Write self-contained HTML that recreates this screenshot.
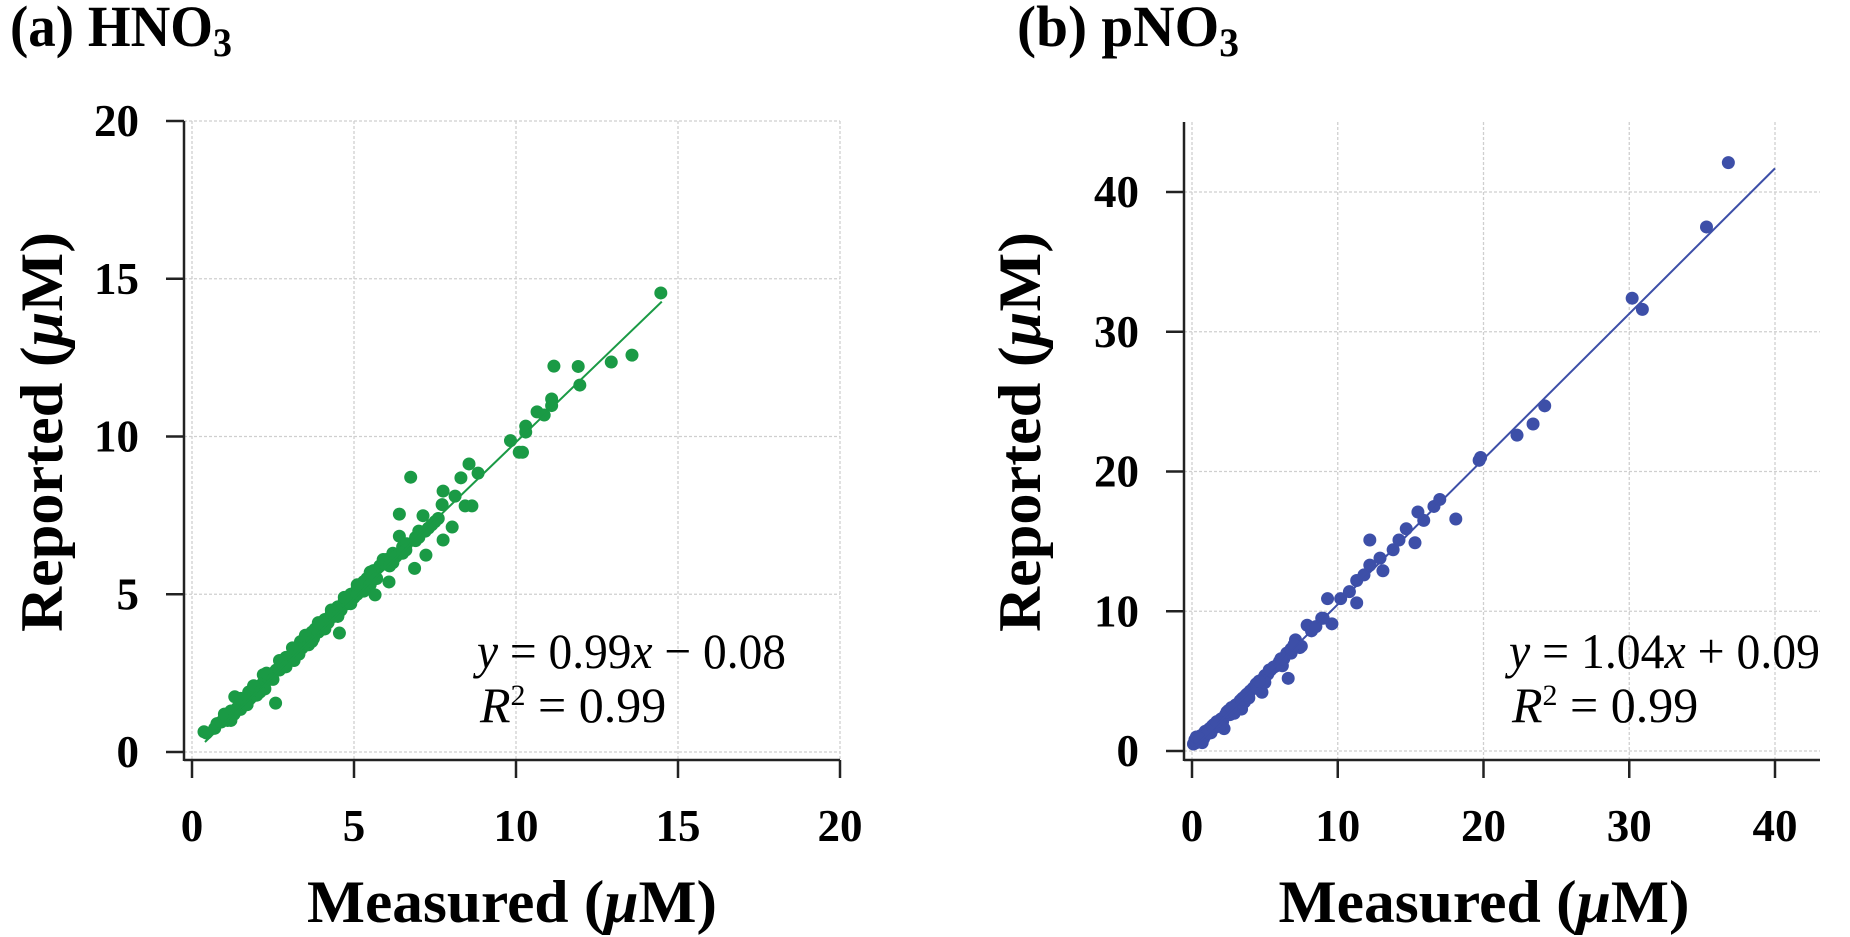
<!DOCTYPE html>
<html><head><meta charset="utf-8">
<style>
html,body{margin:0;padding:0;background:#fff;}
svg{display:block;}
text{font-family:"Liberation Serif",serif;}
.b{font-weight:bold;}
</style></head>
<body>
<svg id="chart" width="1850" height="937" viewBox="0 0 1850 937" xmlns="http://www.w3.org/2000/svg">
<g id="pa"></g>
<g id="pb"></g>
</svg>
<script>
// ---------- Panel (a) HNO3 data ----------
const aTicks = [0, 5, 10, 15, 20];
const aMeasured = [0.37,0.45,0.7,0.77,0.9,1.0,1.1,1.2,1.3,1.32,1.4,1.5,1.6,1.7,1.75,1.8,1.9,2.0,2.0,2.1,2.2,2.25,2.3,2.4,2.5,2.58,2.6,2.7,2.8,2.85,2.9,3.0,3.1,3.15,3.2,3.3,3.35,3.4,3.5,3.6,3.7,3.75,3.8,3.9,4.0,4.05,4.1,4.2,4.3,4.4,4.5,4.55,4.6,4.7,4.8,4.9,5.0,5.1,5.2,5.3,5.4,5.5,5.6,5.65,5.8,5.9,6.0,6.08,6.2,6.3,6.4,6.4,6.5,6.63,6.75,6.87,6.9,7.0,7.13,7.22,7.3,7.5,7.72,7.75,7.75,8.03,8.12,8.3,8.43,8.55,8.64,8.83,9.83,10.1,10.2,10.3,10.3,10.65,10.87,11.1,11.1,11.17,11.92,11.97,12.94,13.58,14.47,2.2,3.6,4.5,5.1,5.6,
 1.0,1.5,1.9,2.3,2.7,3.1,3.5,3.9,4.3,4.7,5.1,5.5,5.9,6.2,6.6,7.0,7.4,1.2,1.7,2.1,2.5,2.9,3.3,3.7,4.1,4.5,4.9,5.3,5.7,6.1,6.5,6.9,7.2,7.6];
const aReported = [0.64,0.6,0.75,0.9,0.95,1.1,1.0,1.3,1.2,1.75,1.4,1.35,1.6,1.5,1.9,1.7,1.9,2.0,1.8,2.1,2.2,2.0,2.4,2.3,2.5,1.55,2.6,2.6,2.8,2.7,3.0,3.0,3.1,2.9,3.3,3.2,3.5,3.3,3.6,3.5,3.8,3.6,3.9,3.8,4.1,3.9,4.2,4.1,4.4,4.3,4.6,3.77,4.5,4.8,4.7,5.0,4.9,5.2,5.1,5.4,5.5,5.3,5.7,4.98,5.9,6.0,6.1,5.39,6.3,6.2,6.84,7.54,6.5,6.6,8.71,5.82,6.8,7.0,7.49,6.24,7.1,7.3,7.84,8.27,6.72,7.13,8.11,8.69,7.8,9.13,7.8,8.84,9.87,9.5,9.5,10.33,10.14,10.78,10.68,11.19,10.98,12.23,12.22,11.63,12.36,12.58,14.55,2.45,3.4,4.3,5.0,5.75,
 1.2,1.7,2.1,2.5,2.9,3.3,3.7,4.1,4.5,4.9,5.3,5.7,6.1,6.0,6.4,6.8,7.2,1.0,1.5,1.9,2.3,2.7,3.1,3.5,3.9,4.3,4.7,5.1,5.5,5.9,6.3,6.7,7.0,7.4];
// ---------- Panel (b) pNO3 data ----------
const bTicks = [0, 10, 20, 30, 40];
const bMeasured = [0.1,0.2,0.3,0.4,0.5,0.6,0.8,0.9,1.0,1.2,1.3,1.5,1.6,1.8,2.0,2.1,2.3,2.5,2.6,2.8,3.0,3.1,3.3,3.5,3.6,3.8,4.0,4.2,4.4,4.5,4.7,4.9,5.0,5.2,5.4,5.6,5.8,6.0,6.3,6.5,6.8,7.1,7.4,7.9,8.2,8.9,9.3,9.6,10.2,10.8,11.3,11.3,11.8,12.2,12.2,12.9,13.1,13.8,14.2,14.7,15.3,15.5,15.9,16.6,17.0,18.1,19.7,19.8,22.3,23.4,24.2,30.2,30.9,35.3,36.8,2.2,3.4,4.8,1.2,6.6,
 0.3,0.7,1.1,1.4,1.9,2.4,2.9,3.4,3.9,4.4,5.0,5.6,6.2,6.8,7.5,8.5,9.0,0.5,1.7,2.7,3.7,4.6,5.3,6.1,7.0];
const bReported = [0.5,0.8,0.6,1.0,0.7,1.1,0.9,1.4,1.2,1.5,1.3,1.9,1.7,2.0,2.3,2.1,2.6,2.9,2.6,3.0,3.3,3.2,3.6,3.8,3.5,4.1,4.3,4.5,4.7,4.5,5.0,5.2,5.4,5.5,5.8,6.0,6.1,6.4,6.6,7.0,7.0,7.95,7.4,9.0,8.6,9.5,10.9,9.1,10.9,11.4,12.2,10.6,12.6,13.3,15.1,13.8,12.9,14.4,15.1,15.9,14.9,17.1,16.5,17.5,18.0,16.6,20.8,21.0,22.6,23.4,24.7,32.4,31.6,37.5,42.1,1.6,3.0,4.2,1.6,5.2,
 1.0,0.6,1.3,1.8,1.8,2.8,2.7,3.7,3.8,4.8,4.9,6.0,6.1,7.3,7.5,8.9,9.5,0.9,2.1,3.1,4.0,5.0,5.8,6.6,7.6];

const NS = "http://www.w3.org/2000/svg";
function mk(parent, tag, attrs, txt){
  const e = document.createElementNS(NS, tag);
  for (const k in attrs) e.setAttribute(k, attrs[k]);
  if (txt !== undefined) e.textContent = txt;
  parent.appendChild(e);
  return e;
}

function drawPanel(g, cfg){
  const sx = v => cfg.x0 + v * (cfg.x1 - cfg.x0) / cfg.xmax;
  const sy = v => cfg.y0 - v * (cfg.y0 - cfg.y1) / cfg.ymax;
  for (const t of cfg.ticks){
    const h = mk(g, 'line', {x1:cfg.axX, x2:cfg.right, y1:sy(t), y2:sy(t), stroke:'#cfcfcf', 'stroke-width':1.3, 'stroke-dasharray':'3,2'});
    
    
    const v = mk(g, 'line', {x1:sx(t), x2:sx(t), y1:cfg.top, y2:cfg.axY, stroke:'#cfcfcf', 'stroke-width':1.3, 'stroke-dasharray':'3,2'});
    
    
  }
  const ya = mk(g, 'line', {x1:cfg.axX, x2:cfg.axX, y1:cfg.top, y2:cfg.axY+1, stroke:'#222', 'stroke-width':2.5});
  
  
  const xa = mk(g, 'line', {x1:cfg.axX, x2:cfg.right, y1:cfg.axY, y2:cfg.axY, stroke:'#222', 'stroke-width':2.5});
  
  
  for (const t of cfg.ticks){
    const a = mk(g, 'line', {x1:cfg.axX-18, x2:cfg.axX, y1:sy(t), y2:sy(t), stroke:'#222', 'stroke-width':2.5});
    
    
    const l = mk(g, 'text', {x:cfg.axX-45, y:sy(t)+15, 'text-anchor':'end', 'font-size':45, class:'b'}, String(t));
    
    
    const b = mk(g, 'line', {x1:sx(t), x2:sx(t), y1:cfg.axY, y2:cfg.axY+18, stroke:'#222', 'stroke-width':2.5});
    
    
    const m = mk(g, 'text', {x:sx(t), y:841, 'text-anchor':'middle', 'font-size':45, class:'b'}, String(t));
    
    
  }
  for (let i = 0; i < cfg.xs.length; i++){
    const c = mk(g, 'circle', {cx:sx(cfg.xs[i]), cy:sy(cfg.ys[i]), r:6.5, fill:cfg.color});
    
    
  }
  const f = mk(g, 'line', {x1:sx(cfg.fx0), y1:sy(cfg.slope*cfg.fx0+cfg.icpt), x2:sx(cfg.fx1), y2:sy(cfg.slope*cfg.fx1+cfg.icpt), stroke:cfg.color, 'stroke-width':2});
  
  
}

drawPanel(document.getElementById('pa'), {x0:192, x1:840, xmax:20, y0:752, y1:121, ymax:20, axX:184, axY:760, top:121, right:840, ticks:aTicks, xs:aMeasured, ys:aReported, color:'#1a9a45', fx0:0.4, fx1:14.5, slope:0.99, icpt:-0.08});
drawPanel(document.getElementById('pb'), {x0:1192, x1:1775, xmax:40, y0:751, y1:192, ymax:40, axX:1184, axY:760, top:122, right:1820, ticks:bTicks, xs:bMeasured, ys:bReported, color:'#3d4fa8', fx0:0, fx1:40, slope:1.04, icpt:0.09});
</script>
<script>
(function(){
  const s = document.getElementById('chart');
  s.insertAdjacentHTML('beforeend', `
  <text x="10" y="46" font-size="58" font-weight="bold" textLength="222" lengthAdjust="spacingAndGlyphs">(a) HNO<tspan font-size="40" dy="10">3</tspan></text>
  <text x="1017" y="46" font-size="58" font-weight="bold" textLength="222" lengthAdjust="spacingAndGlyphs">(b) pNO<tspan font-size="40" dy="10">3</tspan></text>
  <text x="512" y="922" font-size="60" font-weight="bold" text-anchor="middle" textLength="410" lengthAdjust="spacingAndGlyphs">Measured (<tspan font-style="italic">μ</tspan>M)</text>
  <text x="1484" y="922" font-size="60" font-weight="bold" text-anchor="middle" textLength="411" lengthAdjust="spacingAndGlyphs">Measured (<tspan font-style="italic">μ</tspan>M)</text>
  <text transform="translate(62,432) rotate(-90)" font-size="60" font-weight="bold" text-anchor="middle" textLength="400" lengthAdjust="spacingAndGlyphs">Reported (<tspan font-style="italic">μ</tspan>M)</text>
  <text transform="translate(1040,432) rotate(-90)" font-size="60" font-weight="bold" text-anchor="middle" textLength="400" lengthAdjust="spacingAndGlyphs">Reported (<tspan font-style="italic">μ</tspan>M)</text>
  <text x="477" y="668" font-size="50" textLength="309" lengthAdjust="spacingAndGlyphs"><tspan font-style="italic">y</tspan> = 0.99<tspan font-style="italic">x</tspan> − 0.08</text>
  <text x="480" y="722" font-size="50"><tspan font-style="italic">R</tspan><tspan font-size="30" dy="-17">2</tspan><tspan dy="17"> = 0.99</tspan></text>
  <text x="1509" y="668" font-size="50" textLength="311" lengthAdjust="spacingAndGlyphs"><tspan font-style="italic">y</tspan> = 1.04<tspan font-style="italic">x</tspan> + 0.09</text>
  <text x="1512" y="722" font-size="50"><tspan font-style="italic">R</tspan><tspan font-size="30" dy="-17">2</tspan><tspan dy="17"> = 0.99</tspan></text>
  `);
})();
</script>
</body></html>
